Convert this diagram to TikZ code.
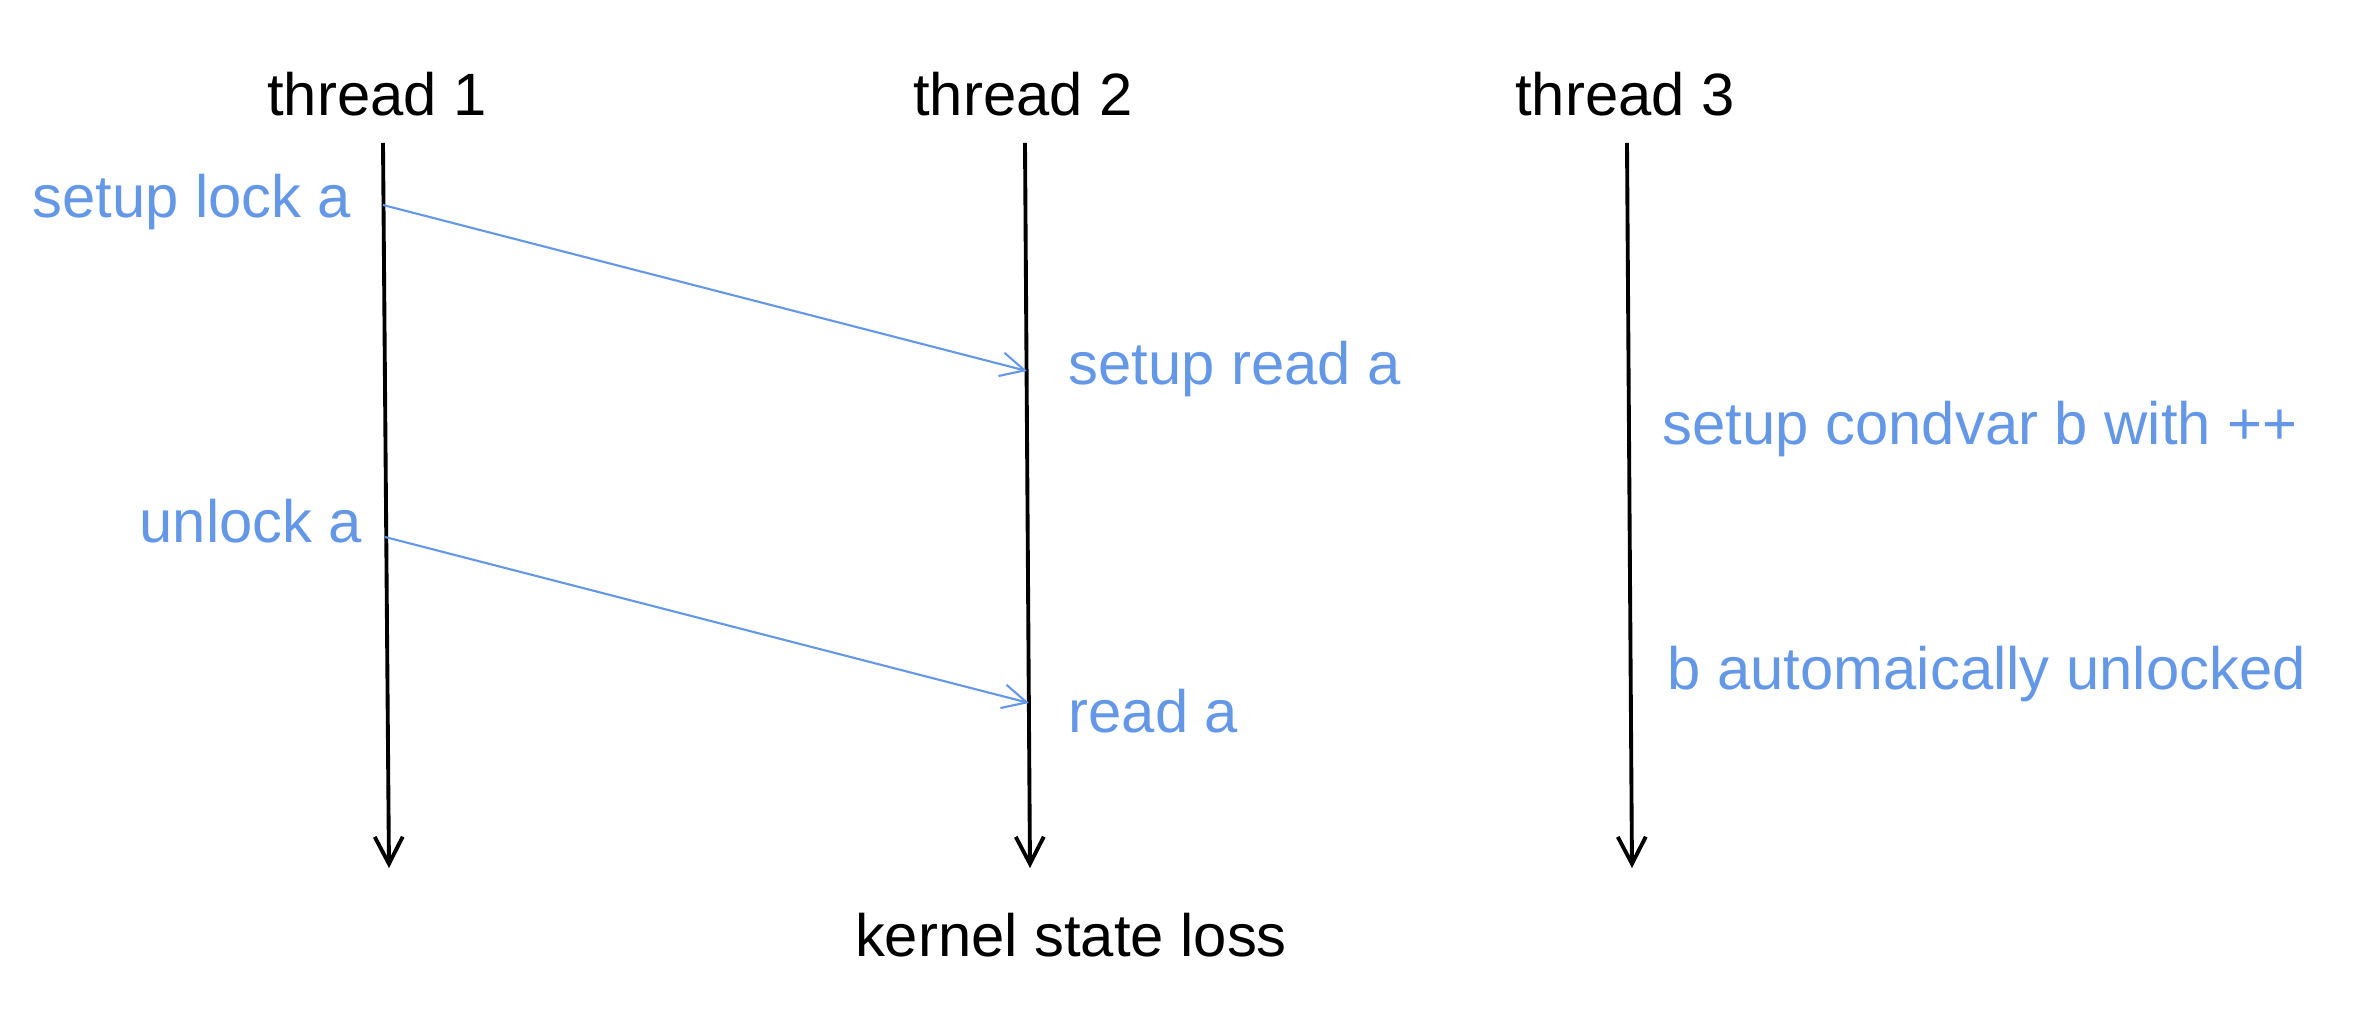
\documentclass[tikz,border=0pt]{standalone}
\usepackage{fontspec}
\setmainfont{Liberation Sans}
\usetikzlibrary{positioning, arrows.meta}
\definecolor{msgblue}{RGB}{100,152,230}
\tikzset{
    thread/.style={line width=1.1pt, -{Straight Barb[length=0.27cm,width=0.28cm]}},
    msg/.style={msgblue, line width=0.6pt, -{Straight Barb[length=0.24cm,width=0.24cm]}},
    lbl/.style={inner sep=0pt, font=\fontsize{17}{20}\selectfont},
    note/.style={lbl, text=msgblue},
}

\begin{document}
\begin{tikzpicture}[x=0.01cm, y=-0.01cm]
        \useasboundingbox (0,0) rectangle (2374,1010);
        \foreach \i/\xt/\xb/\xl in {1/383/389/377, 2/1025/1030/1023, 3/1627/1632/1625} {
            \coordinate (T\i-top) at (\xt,143);
            \coordinate (T\i-bot) at (\xb,868);
            \node[lbl, anchor=base] (T\i) at (\xl,116) {thread \i};
            \draw[thread] (T\i-top)--(T\i-bot);
        }
        \coordinate (lockA) at (383,205);
        \coordinate (readSetA) at (1027,371);
        \coordinate (unlockA) at (385,537);
        \coordinate (readA) at (1029,703);
        \draw[msg] (lockA)--(readSetA);
        \draw[msg] (unlockA)--(readA);
        \node[note, anchor=base east] (lockAtxt) at (352,218) {setup lock a};
        \node[note, anchor=base east] (unlockAtxt) at (363,543) {unlock a};
        \node[note, anchor=base west] (readSetAtxt) at (1068,385) {setup read a};
        \node[note, anchor=base west] (readAtxt) at (1068,733) {read a};
        \node[note, anchor=base west] (condvarB) at (1662,445) {setup condvar b with ++};
        \node[note, anchor=base west] (unlockB) at (1667,690) {b automaically unlocked};
        \node[lbl, anchor=base] (loss) at (1071,957) {kernel state loss};
    \end{tikzpicture}
\end{document}
